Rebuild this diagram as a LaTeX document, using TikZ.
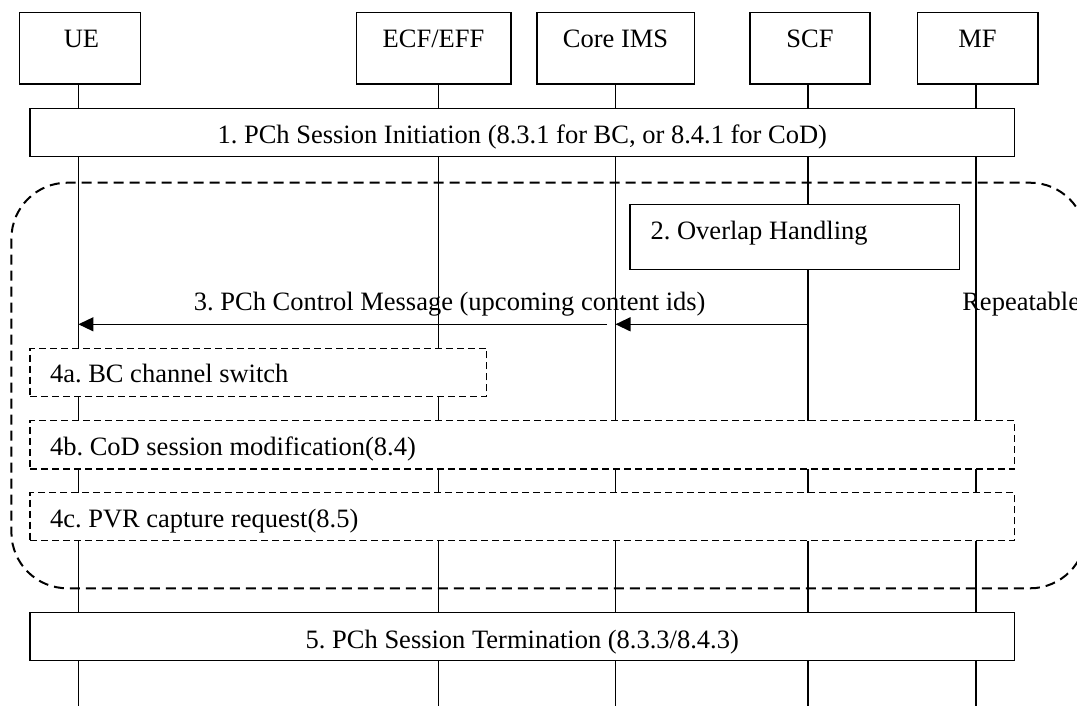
\documentclass[tikz,border=0pt]{standalone}
\usepackage{fontspec}
\setmainfont{Liberation Serif}
\usetikzlibrary{arrows.meta}
\begin{document}
\frenchspacing
\begin{tikzpicture}[x=1pt,y=-1pt,
  every node/.style={font=\fontsize{26.5}{31}\selectfont, inner sep=0pt, outer sep=0pt},
  hdr/.style={draw, line width=1.5pt, anchor=north west},
  solidbox/.style={draw, fill=white, line width=1.5pt, anchor=north west},
  dbox/.style={draw, fill=white, line width=1.2pt, dash pattern=on 7pt off 4pt, anchor=north west},
  life/.style={line width=1.3pt},
  msg/.style={line width=1.3pt, -{Triangle[length=15pt,width=14pt]}},
  repeatloop/.style={line width=2pt, dash pattern=on 10pt off 6pt, rounded corners=56pt},
  lbl/.style={anchor=base},
  lbll/.style={anchor=base west}]
\useasboundingbox (0,0) rectangle (1077,706);

% header boxes
\node[hdr, minimum width=121pt, minimum height=71.3pt] (UE) at (19.6,12.7) {};
\node[hdr, minimum width=154.6pt, minimum height=71.3pt] (ECF) at (356.4,12.7) {};
\node[hdr, minimum width=157.7pt, minimum height=71.3pt] (CORE) at (537,12.7) {};
\node[hdr, minimum width=120.2pt, minimum height=71.3pt] (SCF) at (749.8,12.7) {};
\node[hdr, minimum width=120.5pt, minimum height=71.3pt] (MF) at (917.5,12.7) {};
\node[lbl] (UEt) at (81.5,47.3) {UE};
\node[lbl] (ECFt) at (433.5,47.3) {ECF/EFF};
\node[lbl] (COREt) at (615.5,47.3) {Core IMS};
\node[lbl] (SCFt) at (810,47.3) {SCF};
\node[lbl] (MFt) at (977.5,47.3) {MF};

% lifelines
\coordinate (UEb) at (78.4,706);
\coordinate (ECFb) at (438.4,706);
\coordinate (COREb) at (615.5,706);
\coordinate (SCFb) at (808,706);
\coordinate (MFb) at (976,706);
\draw[life] (UE.south -| UEb) -- (UEb);
\draw[life] (ECF.south -| ECFb) -- (ECFb);
\draw[life] (CORE.south -| COREb) -- (COREb);
\draw[life] (SCF.south -| SCFb) -- (SCFb);
\draw[life] (MF.south -| MFb) -- (MFb);

% step 1
\node[solidbox, minimum width=984.6pt, minimum height=48.4pt] (s1) at (30,108.3) {};
\node[lbl] (s1t) at (522.3,143.3) {1. PCh Session Initiation (8.3.1 for BC, or 8.4.1 for CoD)};

% repeat loop
\draw[repeatloop] (11.4,182.7) rectangle (1086,588.3);

% step 2
\node[solidbox, minimum width=329.5pt, minimum height=65pt] (s2) at (630,204.3) {};
\node[lbll] (s2t) at (650.6,240) {2. Overlap Handling};

% step 3
\coordinate (a3s) at (808,324.3);
\coordinate (a3c) at (615.5,324.3);
\coordinate (a3c2) at (607,324.3);
\coordinate (a3u) at (78.4,324.3);
\draw[msg] (a3s) -- (a3c);
\draw[msg] (a3c2) -- (a3u);
\node[lbl] (l3) at (449.7,310) {3. PCh Control Message (upcoming content ids)};
\node[lbll] (rep) at (962.3,310) {Repeatable};

% step 4
\node[dbox, minimum width=456.6pt, minimum height=48.4pt] (s4a) at (30,348.3) {};
\node[lbll] (s4at) at (50,382.3) {4a. BC channel switch};
\node[dbox, minimum width=984.6pt, minimum height=48.3pt] (s4b) at (30,420.7) {};
\node[lbll] (s4bt) at (50,455) {4b. CoD session modification(8.4)};
\node[dbox, minimum width=984.6pt, minimum height=48pt] (s4c) at (30,492.7) {};
\node[lbll] (s4ct) at (50,527.3) {4c. PVR capture request(8.5)};

% step 5
\node[solidbox, minimum width=984.6pt, minimum height=48.4pt] (s5) at (30,612.3) {};
\node[lbl] (s5t) at (522.3,648.3) {5. PCh Session Termination (8.3.3/8.4.3)};
\end{tikzpicture}
\end{document}
